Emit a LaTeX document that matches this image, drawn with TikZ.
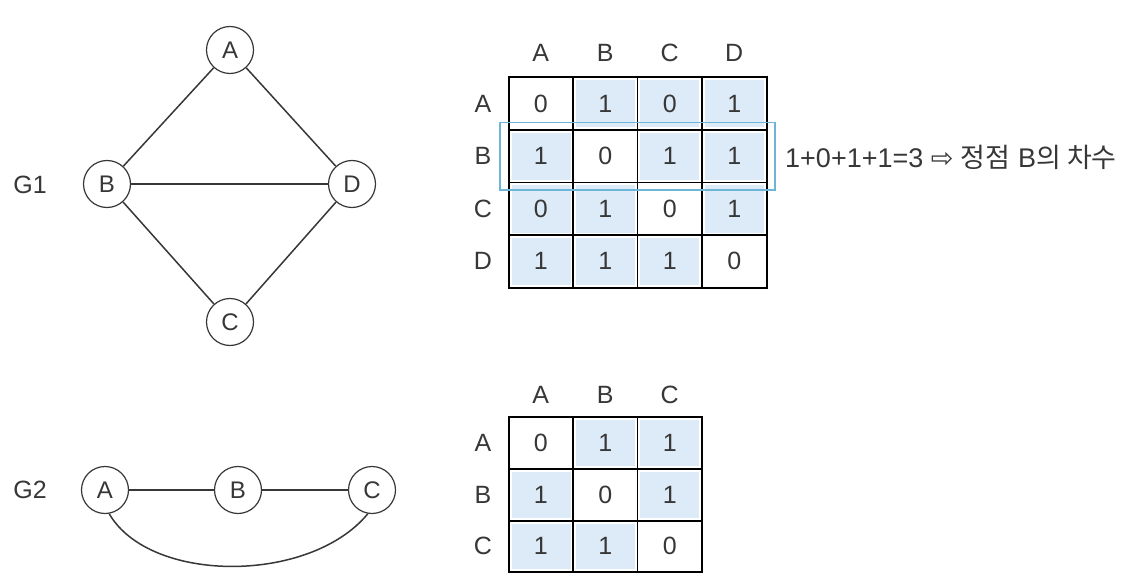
\documentclass[tikz,border=0pt]{standalone}
\usepackage{fontspec}
\setmainfont{Liberation Sans}
\newfontfamily\korfont{Noto Sans CJK KR}
\newfontfamily\symfont{DejaVu Sans}
\definecolor{cellblue}{RGB}{220,235,247}
\definecolor{rowblue}{RGB}{110,180,215}
\definecolor{inkgray}{RGB}{55,55,55}

\begin{document}
\begin{tikzpicture}[x=1pt,y=1pt,
    vertex/.style={draw=inkgray,line width=1.2pt,circle,minimum size=47pt,inner sep=0pt,font=\fontsize{24}{24}\selectfont,text=inkgray},
    edge/.style={draw=inkgray,line width=1.5pt},
    lbl/.style={inner sep=0pt,font=\fontsize{25}{25}\selectfont,text=inkgray},
    val/.style={inner sep=0pt,font=\fontsize{25}{25}\selectfont,text=inkgray}]
				\useasboundingbox (0,0) rectangle (1142,-588);
				% G1
				\node [lbl] (g1) at (30,-185) {G1};
				\node [vertex] (a1) at (230,-50) {A};
				\node [vertex] (b1) at (107,-184) {B};
				\node [vertex] (d1) at (352,-184) {D};
				\node [vertex] (c1) at (230,-322) {C};
				\draw [edge] (a1) -- (b1);
				\draw [edge] (a1) -- (d1);
				\draw [edge] (b1) -- (d1);
				\draw [edge] (b1) -- (c1);
				\draw [edge] (c1) -- (d1);
				% G2
				\node [lbl] (g2) at (30,-490) {G2};
				\node [vertex] (a2) at (105,-490) {A};
				\node [vertex] (b2) at (238,-490) {B};
				\node [vertex] (c2) at (372,-490) {C};
				\draw [edge] (a2) -- (b2);
				\draw [edge] (b2) -- (c2);
				\draw [edge] (a2.-80) .. controls (150,-584) and (310,-584) .. (c2.-100);
				% matrix of G1
				\fill [cellblue] (575.5,-80.5) rectangle (634.5,-127.5);
				\fill [cellblue] (640,-80.5) rectangle (699,-127.5);
				\fill [cellblue] (704.5,-80.5) rectangle (763.5,-127.5);
				\fill [cellblue] (511.5,-133) rectangle (570.5,-180);
				\fill [cellblue] (640,-133) rectangle (699,-180);
				\fill [cellblue] (704.5,-133) rectangle (763.5,-180);
				\fill [cellblue] (511.5,-185.5) rectangle (570.5,-232.5);
				\fill [cellblue] (575.5,-185.5) rectangle (634.5,-232.5);
				\fill [cellblue] (704.5,-185.5) rectangle (763.5,-232.5);
				\fill [cellblue] (511.5,-238) rectangle (570.5,-284.5);
				\fill [cellblue] (575.5,-238) rectangle (634.5,-284.5);
				\fill [cellblue] (640,-238) rectangle (699,-284.5);
				\draw [black,line width=1.5pt] (573,-77.5) -- (573,-287.5);
				\draw [black,line width=1.5pt] (637.5,-77.5) -- (637.5,-287.5);
				\draw [black,line width=1.5pt] (702,-77.5) -- (702,-287.5);
				\draw [black,line width=1.5pt] (508.5,-130) -- (766.5,-130);
				\draw [black,line width=1.5pt] (508.5,-182.5) -- (766.5,-182.5);
				\draw [black,line width=1.5pt] (508.5,-235) -- (766.5,-235);
				\draw [black,line width=2pt] (508.5,-77.5) rectangle (766.5,-287.5);
				\node [lbl] (h1a) at (540.75,-53) {A};
				\node [lbl] (h1b) at (605.25,-53) {B};
				\node [lbl] (h1c) at (669.75,-53) {C};
				\node [lbl] (h1d) at (734.25,-53) {D};
				\node [lbl] (r1a) at (483,-103.75) {A};
				\node [lbl] (r1b) at (483,-156.25) {B};
				\node [lbl] (r1c) at (483,-208.75) {C};
				\node [lbl] (r1d) at (483,-261.25) {D};
				\node [val] (m1aa) at (540.75,-103.75) {0};
				\node [val] (m1ab) at (605.25,-103.75) {1};
				\node [val] (m1ac) at (669.75,-103.75) {0};
				\node [val] (m1ad) at (734.25,-103.75) {1};
				\node [val] (m1ba) at (540.75,-156.25) {1};
				\node [val] (m1bb) at (605.25,-156.25) {0};
				\node [val] (m1bc) at (669.75,-156.25) {1};
				\node [val] (m1bd) at (734.25,-156.25) {1};
				\node [val] (m1ca) at (540.75,-208.75) {0};
				\node [val] (m1cb) at (605.25,-208.75) {1};
				\node [val] (m1cc) at (669.75,-208.75) {0};
				\node [val] (m1cd) at (734.25,-208.75) {1};
				\node [val] (m1da) at (540.75,-261.25) {1};
				\node [val] (m1db) at (605.25,-261.25) {1};
				\node [val] (m1dc) at (669.75,-261.25) {1};
				\node [val] (m1dd) at (734.25,-261.25) {0};
				% row B highlighted
				\draw [rowblue,line width=1.5pt] (500,-122.5) rectangle (775,-190);
				\node [lbl,anchor=west,font=\fontsize{27}{27}\selectfont] (deg) at (785,-157) {1+0+1+1=3 {\symfont ⇨} {\korfont 정점} B{\korfont 의 차수}};
				% matrix of G2
				\fill [cellblue] (575.5,-420) rectangle (634.5,-466);
				\fill [cellblue] (640,-420) rectangle (699,-466);
				\fill [cellblue] (511.5,-472) rectangle (570.5,-518);
				\fill [cellblue] (640,-472) rectangle (699,-518);
				\fill [cellblue] (511.5,-524) rectangle (570.5,-568.5);
				\fill [cellblue] (575.5,-524) rectangle (634.5,-568.5);
				\draw [black,line width=1.5pt] (573,-417) -- (573,-571.5);
				\draw [black,line width=1.5pt] (637.5,-417) -- (637.5,-571.5);
				\draw [black,line width=1.5pt] (508.5,-469) -- (702,-469);
				\draw [black,line width=1.5pt] (508.5,-521) -- (702,-521);
				\draw [black,line width=2pt] (508.5,-417) rectangle (702,-571.5);
				\node [lbl] (h2a) at (540.75,-395) {A};
				\node [lbl] (h2b) at (605.25,-395) {B};
				\node [lbl] (h2c) at (669.75,-395) {C};
				\node [lbl] (r2a) at (483,-443) {A};
				\node [lbl] (r2b) at (483,-495) {B};
				\node [lbl] (r2c) at (483,-546) {C};
				\node [val] (m2aa) at (540.75,-443) {0};
				\node [val] (m2ab) at (605.25,-443) {1};
				\node [val] (m2ac) at (669.75,-443) {1};
				\node [val] (m2ba) at (540.75,-495) {1};
				\node [val] (m2bb) at (605.25,-495) {0};
				\node [val] (m2bc) at (669.75,-495) {1};
				\node [val] (m2ca) at (540.75,-546) {1};
				\node [val] (m2cb) at (605.25,-546) {1};
				\node [val] (m2cc) at (669.75,-546) {0};
\end{tikzpicture}
\end{document}
